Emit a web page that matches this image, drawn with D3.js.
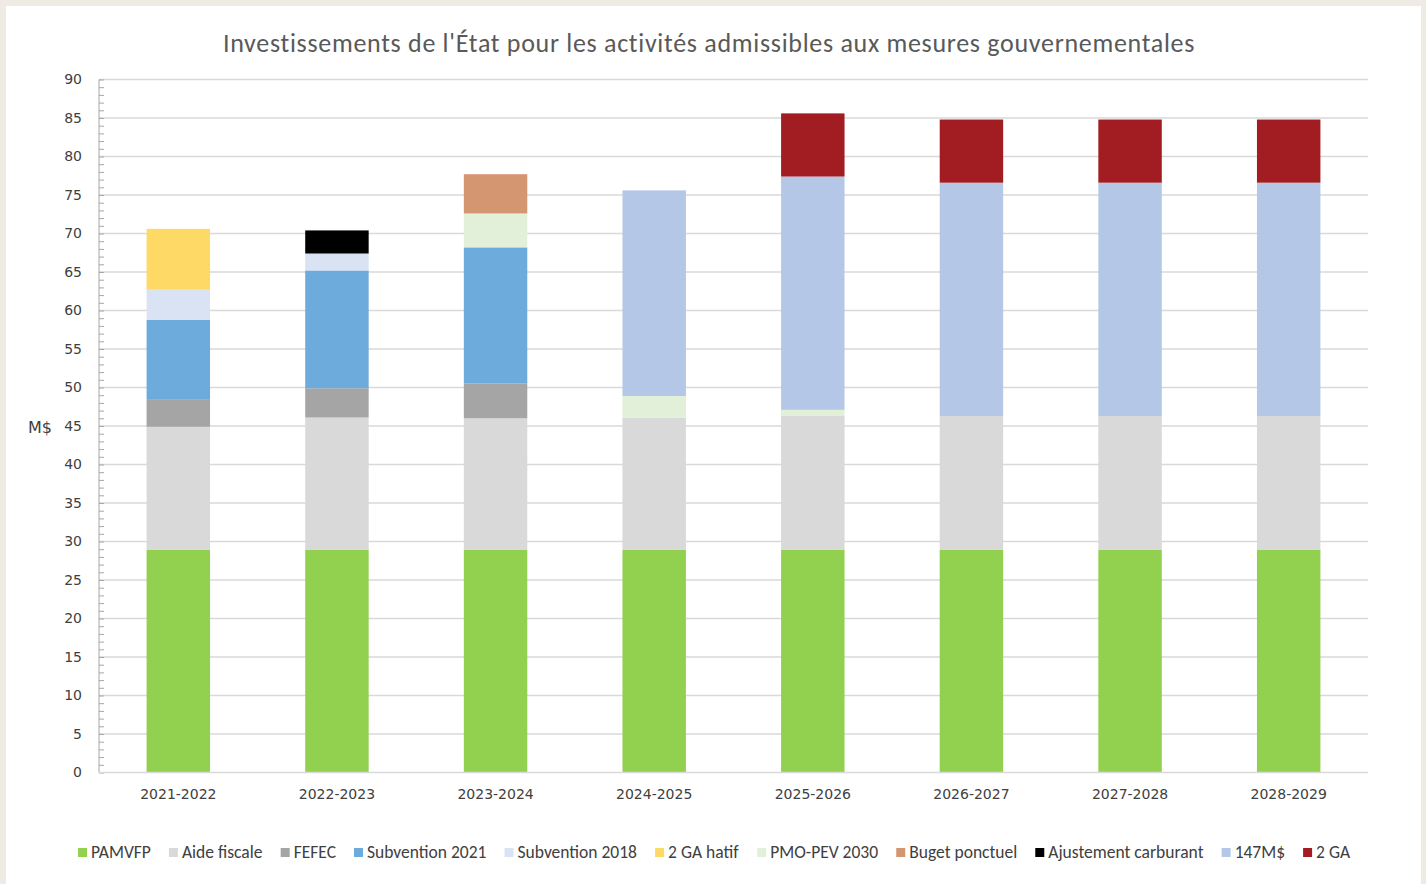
<!DOCTYPE html>
<html>
<head>
<meta charset="utf-8">
<script src="https://cdn.jsdelivr.net/npm/d3@7"></script>
<style>
  html, body { margin: 0; padding: 0; background: #efebe4; }
  #chart { position: absolute; left: 6px; top: 6px; width: 1415px; height: 878px; background: #fff; }
  svg { display: block; }
</style>
</head>
<body>
<div id="chart"></div>
<script>
// data (M$)
const categories = ["2021-2022", "2022-2023", "2023-2024", "2024-2025", "2025-2026", "2026-2027", "2027-2028", "2028-2029"];
const seriesNames = ["PAMVFP", "Aide fiscale", "FEFEC", "Subvention 2021", "Subvention 2018", "2 GA hatif", "PMO-PEV 2030", "Buget ponctuel", "Ajustement carburant", "147M$", "2 GA"];
const pamvfp       = [28.9, 28.9, 28.9, 28.9, 28.9, 28.9, 28.9, 28.9];
const aideFiscale  = [16.0, 17.2, 17.1, 17.2, 17.4, 17.4, 17.4, 17.4];
const fefec        = [3.5, 3.8, 4.5, 0, 0, 0, 0, 0];
const subv2021     = [10.4, 15.3, 17.7, 0, 0, 0, 0, 0];
const subv2018     = [3.9, 2.2, 0, 0, 0, 0, 0, 0];
const gaHatif      = [7.9, 0, 0, 0, 0, 0, 0, 0];
const pmoPev       = [0, 0, 4.4, 2.8, 0.8, 0, 0, 0];
const bugetPonct   = [0, 0, 5.1, 0, 0, 0, 0, 0];
const ajustCarb    = [0, 3.0, 0, 0, 0, 0, 0, 0];
const m147         = [0, 0, 0, 26.7, 30.3, 30.3, 30.3, 30.3];
const ga2          = [0, 0, 0, 0, 8.2, 8.2, 8.2, 8.2];
const yTicks = d3.range(0, 91, 5);

const seriesValues = [pamvfp, aideFiscale, fefec, subv2021, subv2018, gaHatif, pmoPev, bugetPonct, ajustCarb, m147, ga2];
const colors = ["#92d050", "#d9d9d9", "#a5a5a5", "#6dabdc", "#dae3f3", "#ffd966", "#e2efd9", "#d39670", "#000000", "#b4c7e7", "#a11d21"];

const W = 1415, H = 878;
const ox = 6, oy = 6; // card offset in page
const margin = { left: 99 - ox, right: W - (1368 - ox), top: 79.5 - oy, bottom: H - (772.5 - oy) };
const tickFont = "'DejaVu Sans', Verdana, sans-serif";
const textFont = "Carlito, 'Liberation Sans Narrow', 'Open Sans', sans-serif";

const table = categories.map((c, i) => {
  const row = { cat: c };
  seriesNames.forEach((s, j) => row[s] = seriesValues[j][i]);
  return row;
});
const stacked = d3.stack().keys(seriesNames)(table);

const x = d3.scaleBand().domain(categories).range([margin.left, W - margin.right]).paddingInner(0.6).paddingOuter(0.3);
const y = d3.scaleLinear().domain([0, 90]).range([H - margin.bottom, margin.top]);
const color = d3.scaleOrdinal(seriesNames, colors);

const svg = d3.select("#chart").append("svg").attr("width", W).attr("height", H);

svg.append("text")
  .attr("x", 703).attr("y", 46)
  .attr("text-anchor", "middle")
  .attr("font-family", textFont)
  .attr("font-size", 26).attr("letter-spacing", 0.7).attr("fill", "#595959")
  .text("Investissements de l'État pour les activités admissibles aux mesures gouvernementales");

// gridlines
svg.append("g")
  .attr("stroke", "#d9d9d9").attr("stroke-width", 1.4)
  .selectAll("line").data(yTicks.slice(1)).join("line")
  .attr("x1", margin.left).attr("x2", W - margin.right)
  .attr("y1", d => y(d)).attr("y2", d => y(d));

// bars
svg.append("g").selectAll("g").data(stacked).join("g")
  .attr("fill", d => color(d.key))
  .selectAll("rect").data(d => d).join("rect")
  .attr("x", d => x(d.data.cat))
  .attr("width", x.bandwidth())
  .attr("y", d => y(d[1]))
  .attr("height", d => Math.max(0, y(d[0]) - y(d[1])));

// y axis with inner minor ticks
svg.append("g").attr("transform", `translate(${margin.left},0)`)
  .call(d3.axisRight(y).tickValues(d3.range(0, 91, 1)).tickSize(5).tickFormat(""))
  .call(g => g.selectAll("line").attr("stroke", "#a6a6a6"))
  .call(g => g.select(".domain").attr("stroke", "#a6a6a6").attr("d", `M0,${y(0)}V${y(90)}`));
svg.append("g").attr("transform", `translate(${margin.left},0)`)
  .call(d3.axisLeft(y).tickValues(yTicks).tickSize(0).tickPadding(17))
  .call(g => g.select(".domain").remove())
  .call(g => g.selectAll("text").attr("font-family", tickFont).attr("font-size", 14).attr("fill", "#404040"));

svg.append("text")
  .attr("x", 22).attr("y", y(45) + 7)
  .attr("font-family", tickFont).attr("font-size", 16).attr("fill", "#404040")
  .text("M$");

// x axis
svg.append("g").attr("transform", `translate(0,${y(0)})`)
  .call(d3.axisBottom(x).tickSize(0).tickPadding(17))
  .call(g => g.select(".domain").attr("stroke", "#d9d9d9").attr("stroke-width", 1.4).attr("d", `M${margin.left},0H${W - margin.right}`))
  .call(g => g.selectAll("text").attr("font-family", tickFont).attr("font-size", 14).attr("fill", "#404040"));

// legend
const legend = svg.append("g").attr("font-family", textFont).attr("font-size", 17.5).attr("fill", "#404040");
const items = legend.selectAll("g").data(seriesNames).join("g");
items.append("rect").attr("width", 9).attr("height", 9).attr("y", -10).attr("fill", d => color(d));
items.append("text").attr("x", 13).attr("y", 0).text(d => d);
let lx = 0;
const gap = 18;
items.each(function() {
  const w = this.getBBox().width;
  d3.select(this).attr("transform", `translate(${lx},0)`);
  lx += w + gap;
});
const total = lx - gap;
legend.attr("transform", `translate(${(80 + 1349) / 2 - ox - total / 2},${858 - oy})`);
</script>
</body>
</html>
